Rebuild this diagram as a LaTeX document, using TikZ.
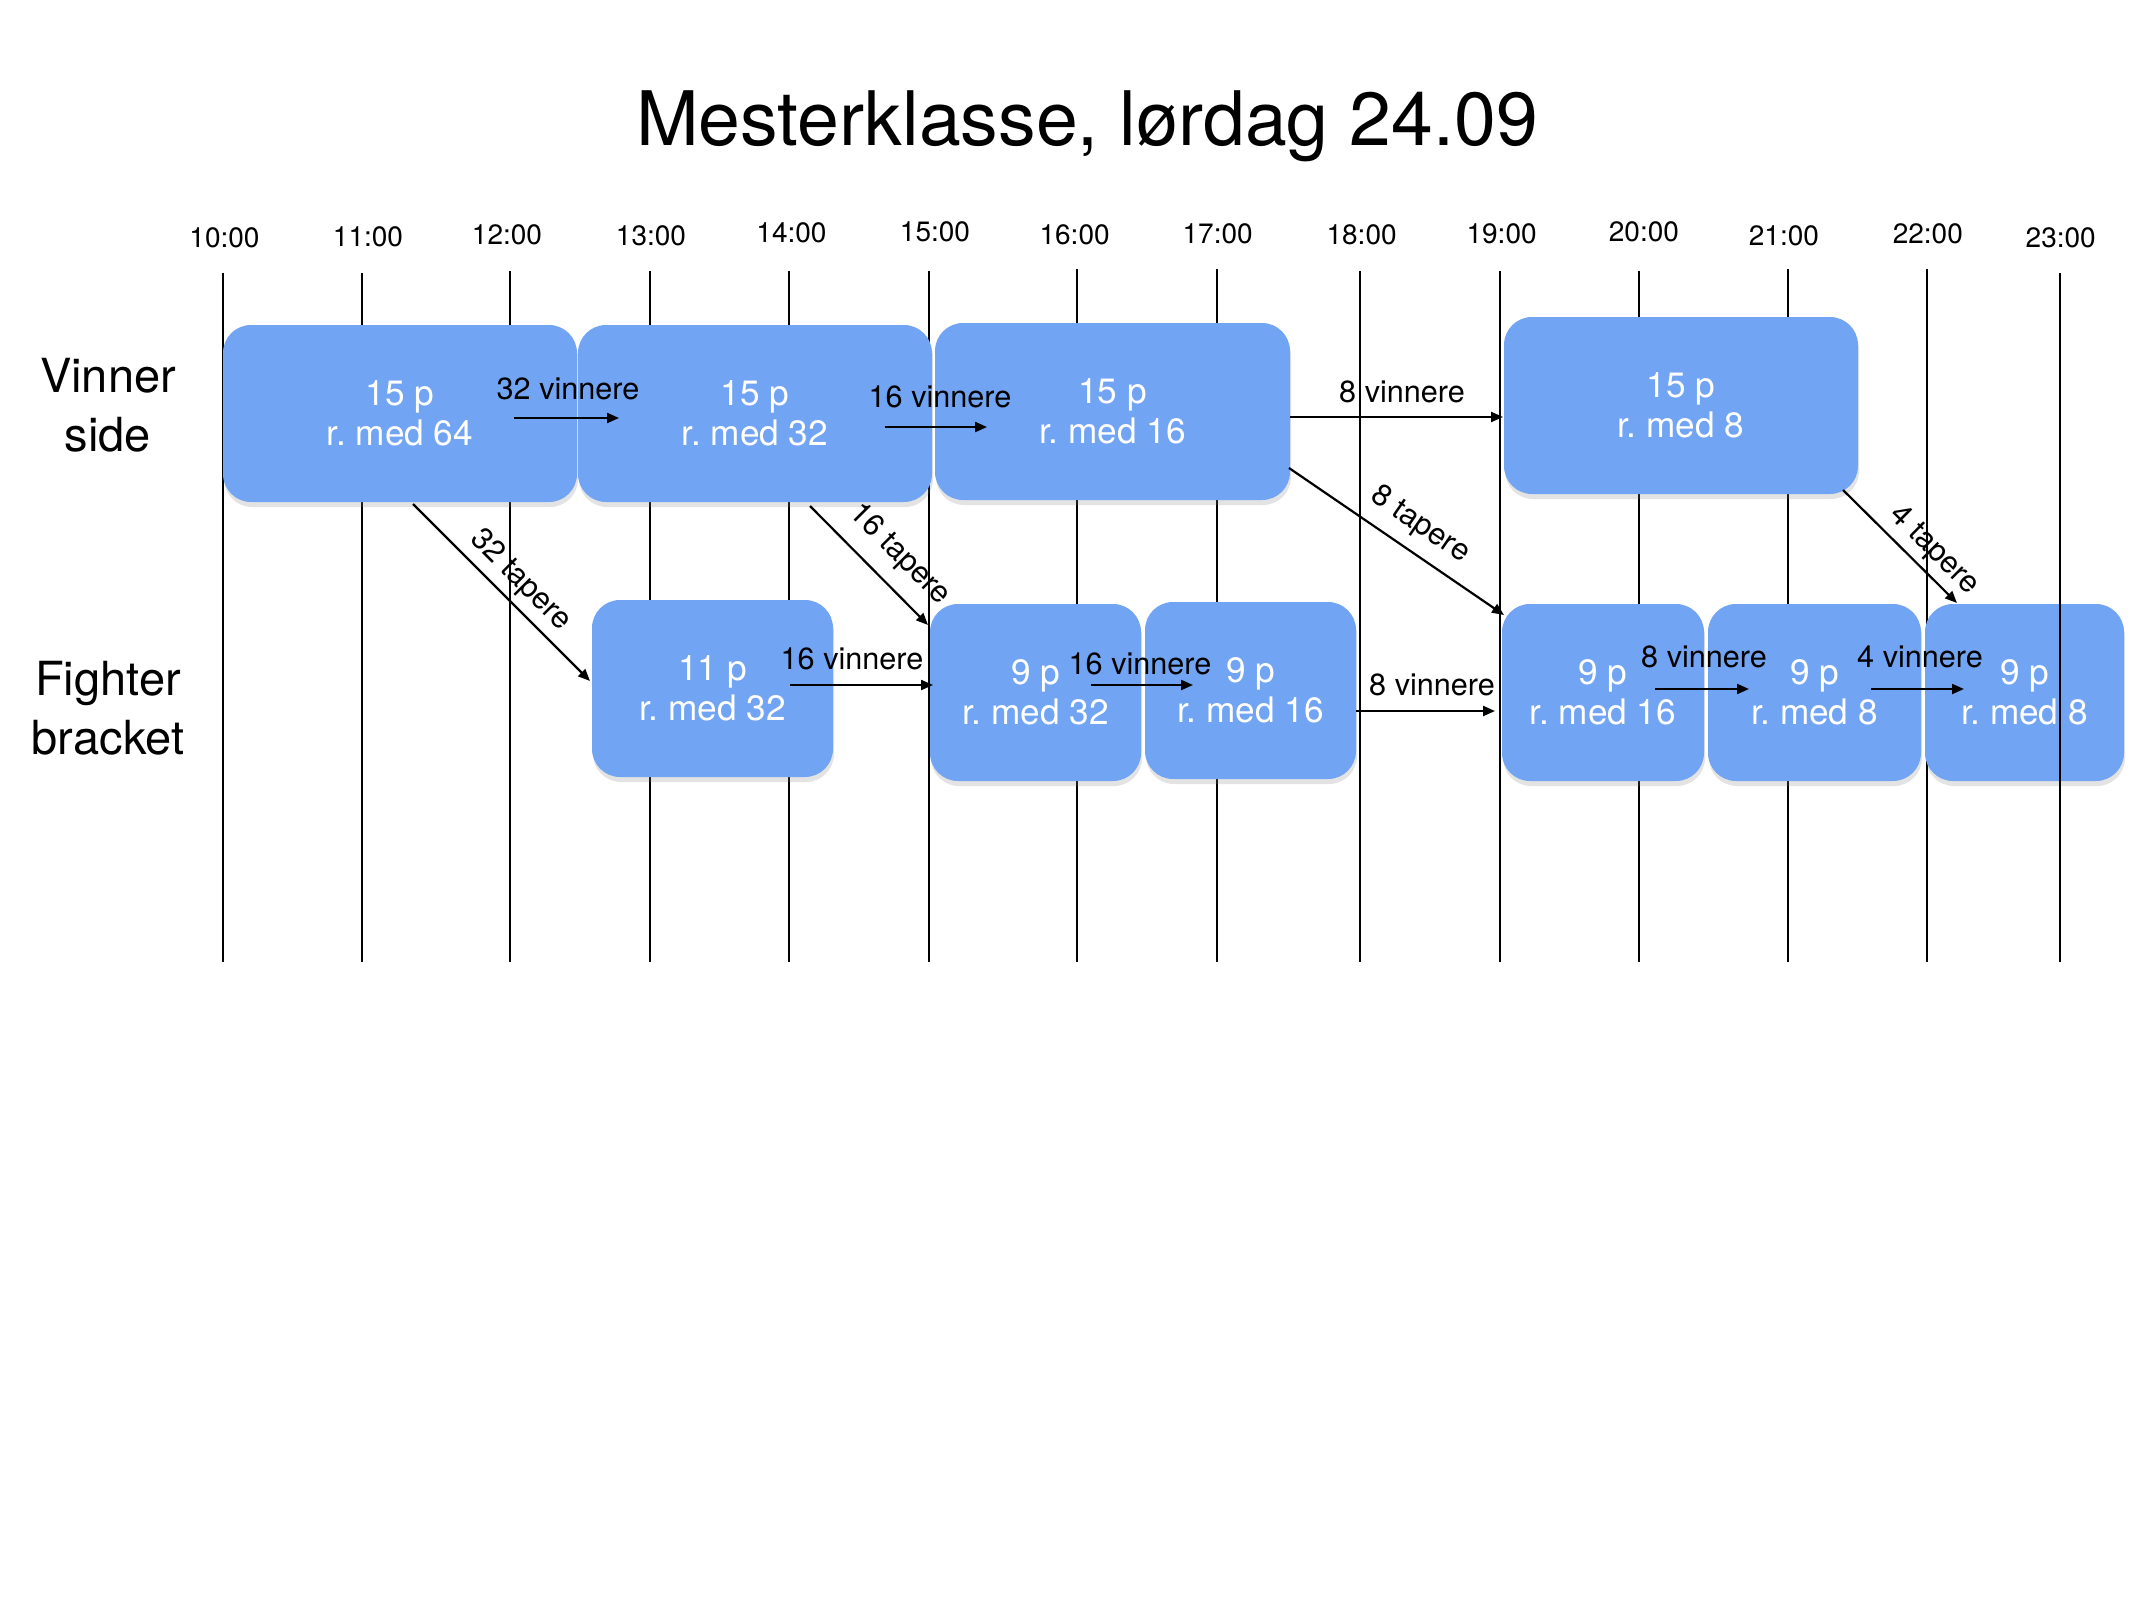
\documentclass[tikz,border=0pt]{standalone}
\usepackage{fontspec}
\setmainfont{TeX Gyre Heros}
\usetikzlibrary{arrows.meta,shadows}
\definecolor{boxblue}{RGB}{113,164,242}
\frenchspacing
\begin{document}
\begin{tikzpicture}[x=0.5pt,y=-0.5pt,
  vline/.style={line width=1pt},
  tlabel/.style={font=\fontsize{14}{16}\selectfont, inner sep=0pt},
  rowlabel/.style={font=\fontsize{23.5}{29.5}\selectfont, align=center, inner sep=0pt},
  titlestyle/.style={font=\fontsize{37.6}{44}\selectfont, inner sep=0pt},
  box/.style={fill=boxblue, rounded corners=14pt, text=white, align=center,
    font=\fontsize{17.6}{20.2}\selectfont\frenchspacing, inner sep=0pt, minimum height=88.5pt,
    drop shadow={opacity=0.22, shadow xshift=0.5pt, shadow yshift=-2.5pt}},
  arr/.style={line width=1.1pt, -{Triangle[length=6pt,width=5pt]}},
  lbl/.style={font=\fontsize{15.3}{18}\selectfont, inner sep=0pt, text=black},
]
\useasboundingbox[fill=white] (0,0) rectangle (2133,1600);

% vertical time lines
\foreach \x/\t in {223/272.7, 362/272.7, 510/270.8, 650/270.8, 789/270.8, 929/270.8,
  1077/269, 1217/269, 1360/270.8, 1500/270.8, 1639/270.8, 1788/269, 1927/269}
  \draw[vline] (\x,\t) -- (\x,962);

% time labels
\node[tlabel] (t10) at (224.5,238) {10:00};
\node[tlabel] (t11) at (368,237) {11:00};
\node[tlabel] (t12) at (507,235) {12:00};
\node[tlabel] (t13) at (651,236) {13:00};
\node[tlabel] (t14) at (791.5,233) {14:00};
\node[tlabel] (t15) at (935,231.5) {15:00};
\node[tlabel] (t16) at (1074.6,235) {16:00};
\node[tlabel] (t17) at (1217.7,234) {17:00};
\node[tlabel] (t18) at (1361.6,235) {18:00};
\node[tlabel] (t19) at (1501.6,234) {19:00};
\node[tlabel] (t20) at (1643.9,232) {20:00};
\node[tlabel] (t21) at (1783.9,236) {21:00};
\node[tlabel] (t22) at (1927.8,234) {22:00};
\node[tlabel] (t23) at (2060.7,237.5) {23:00};

% title and row labels
\node[titlestyle] (title) at (1087,126) {Mesterklasse, lørdag 24.09};
\node[rowlabel] (vs) at (108,405.5) {Vinner\\side};
\node[rowlabel] (fb) at (108,708) {Fighter\\bracket};

% boxes
\node[box, minimum width=177pt] (A) at (400,413.5) {15 p\\r. med 64};
\node[box, minimum width=177pt] (B) at (755,413.5) {15 p\\r. med 32};
\node[box, minimum width=177.5pt] (C) at (1112.5,411.5) {15 p\\r. med 16};
\node[box, minimum width=177pt] (D) at (1681,405.5) {15 p\\r. med 8};
\node[box, minimum width=120.5pt] (F1) at (712.5,688.5) {11 p\\r. med 32};
\node[box, minimum width=105.5pt] (F2) at (1035.5,692.5) {9 p\\r. med 32};
\node[box, minimum width=105.5pt] (F3) at (1250.5,690.5) {9 p\\r. med 16};
\node[box, minimum width=101pt] (F4) at (1603,692.5) {9 p\\r. med 16};
\node[box, minimum width=106.5pt] (F5) at (1814.5,692.5) {9 p\\r. med 8};
\node[box, minimum width=99.5pt] (F6) at (2024.5,692.5) {9 p\\r. med 8};

% last time line lies over the last box
\draw[vline] (2060,272.7) -- (2060,962);

% connector end points
\coordinate (a1s) at (514,418);   \coordinate (a1e) at (619,418);
\coordinate (a2s) at (885,427);   \coordinate (a2e) at (987,427);
\coordinate (a3s) at (1290,417);  \coordinate (a3e) at (1503,417);
\coordinate (a4s) at (413,504);   \coordinate (a4e) at (590,681);
\coordinate (a5s) at (810,506);   \coordinate (a5e) at (928,625);
\coordinate (a6s) at (1289,468);  \coordinate (a6e) at (1504,615);
\coordinate (a7s) at (1843,490);  \coordinate (a7e) at (1957,603);
\coordinate (a8s) at (790,685);   \coordinate (a8e) at (933,685);
\coordinate (a9s) at (1091,685);  \coordinate (a9e) at (1193,685);
\coordinate (a10s) at (1356,711); \coordinate (a10e) at (1495,711);
\coordinate (a11s) at (1655,689); \coordinate (a11e) at (1749,689);
\coordinate (a12s) at (1871,689); \coordinate (a12e) at (1964,689);

% winners
\draw[arr] (a1s) -- node[lbl, midway, xshift=0.75pt, yshift=14.5pt] {32 vinnere} (a1e);
\draw[arr] (a2s) -- node[lbl, midway, xshift=2pt, yshift=15pt] {16 vinnere} (a2e);
\draw[arr] (a3s) -- node[lbl, midway, xshift=2.75pt, yshift=12.5pt] {8 vinnere} (a3e);
\draw[arr] (a8s) -- node[lbl, midway, xshift=-4.75pt, yshift=13pt] {16 vinnere} (a8e);
\draw[arr] (a9s) -- node[lbl, midway, xshift=-1pt, yshift=10.5pt] {16 vinnere} (a9e);
\draw[arr] (a10s) -- node[lbl, midway, xshift=3.25pt, yshift=13pt] {8 vinnere} (a10e);
\draw[arr] (a11s) -- node[lbl, midway, xshift=1pt, yshift=16pt] {8 vinnere} (a11e);
\draw[arr] (a12s) -- node[lbl, midway, xshift=1.25pt, yshift=16pt] {4 vinnere} (a12e);

% losers
\draw[arr] (a4s) -- node[lbl, sloped, pos=0.52, above=3.25pt] {32 tapere} (a4e);
\draw[arr] (a5s) -- node[lbl, sloped, pos=0.58, above=6.8pt] {16 tapere} (a5e);
\draw[arr] (a6s) -- node[lbl, sloped, pos=0.54, above=5.7pt] {8 tapere} (a6e);
\draw[arr] (a7s) -- node[lbl, sloped, pos=0.67, above=2.75pt] {4 tapere} (a7e);
\end{tikzpicture}
\end{document}
